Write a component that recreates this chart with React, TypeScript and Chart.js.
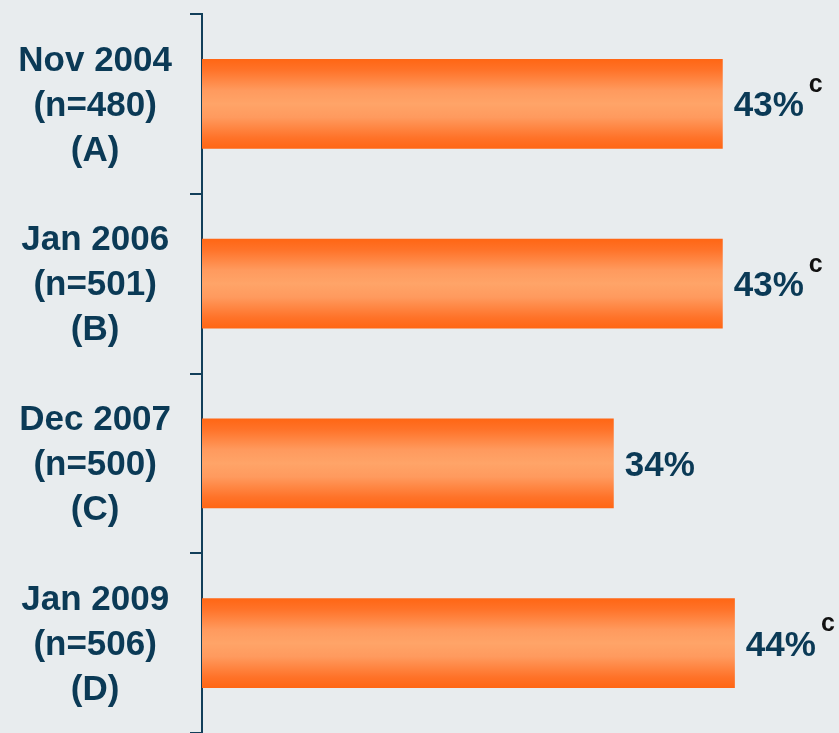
import React, { useEffect, useRef } from 'react';
import { Chart, registerables } from 'chart.js';

Chart.register(...registerables);

const categories: string[][] = [
  ['Nov 2004', '(n=480)', '(A)'],
  ['Jan 2006', '(n=501)', '(B)'],
  ['Dec 2007', '(n=500)', '(C)'],
  ['Jan 2009', '(n=506)', '(D)'],
];
const values: number[] = [43, 43, 34, 44];
const valueLabels: string[] = ['43%', '43%', '34%', '44%'];
const superscripts: string[] = ['c', 'c', '', 'c'];

const NAVY = '#0b3a56';
const AXIS = '#123f5a';
const BG = '#e8ecee';
const FONT = "'Liberation Sans', Arial, Helvetica, sans-serif";

export default function App() {
  const ref = useRef<HTMLCanvasElement | null>(null);

  useEffect(() => {
    const canvas = ref.current;
    if (!canvas) return;

    const bgPlugin = {
      id: 'bg',
      beforeDraw(chart: any) {
        const { ctx, width, height } = chart;
        ctx.save();
        ctx.fillStyle = BG;
        ctx.fillRect(0, 0, width, height);
        ctx.restore();
        // nudge the category labels down slightly to match the reference baseline
        const y = chart.scales.y;
        if (y && typeof y.getLabelItems === 'function') {
          const items = y.getLabelItems();
          items.forEach((it: any) => {
            if (!it.__shifted && it.options && it.options.translation) {
              it.options.translation = [it.options.translation[0], it.options.translation[1] + 2];
              it.__shifted = true;
            }
          });
        }
      },
    };

    const labelPlugin = {
      id: 'valueLabels',
      afterDatasetsDraw(chart: any) {
        const { ctx } = chart;
        const meta = chart.getDatasetMeta(0);
        ctx.save();
        meta.data.forEach((el: any, i: number) => {
          ctx.font = `bold 35px ${FONT}`;
          ctx.fillStyle = NAVY;
          ctx.textAlign = 'left';
          ctx.textBaseline = 'alphabetic';
          const x = el.x + 11;
          ctx.fillText(valueLabels[i], x, el.y + 12.5);
          const w = ctx.measureText(valueLabels[i]).width;
          if (superscripts[i]) {
            ctx.font = `bold 25px ${FONT}`;
            ctx.fillStyle = '#111111';
            ctx.fillText(superscripts[i], x + w + 5, el.y - 12);
          }
        });
        ctx.restore();
      },
    };

    const chart = new Chart(canvas, {
      type: 'bar',
      data: {
        labels: categories,
        datasets: [
          {
            data: values,
            barPercentage: 0.5,
            categoryPercentage: 1,
            borderWidth: 0,
            backgroundColor: (context: any) => {
              const c = context.chart;
              const y = c.scales?.y;
              const fallback = '#ff8a44';
              if (!y || typeof context.dataIndex !== 'number') return fallback;
              const center = y.getPixelForValue(context.dataIndex);
              const half = (y.height / categories.length) * 0.25;
              if (!isFinite(center) || !isFinite(half) || half <= 0) return fallback;
              const g = c.ctx.createLinearGradient(0, center - half, 0, center + half);
              g.addColorStop(0, '#ff6614');
              g.addColorStop(0.12, '#ff7228');
              g.addColorStop(0.35, '#ff9a5e');
              g.addColorStop(0.5, '#ffa468');
              g.addColorStop(0.65, '#ff9a5e');
              g.addColorStop(0.88, '#ff7228');
              g.addColorStop(1, '#ff6614');
              return g;
            },
          },
        ],
      },
      options: {
        indexAxis: 'y',
        responsive: false,
        animation: false,
        layout: { padding: { top: 14, bottom: 0, left: 0, right: 0 } },
        plugins: {
          legend: { display: false },
          tooltip: { enabled: false },
        },
        scales: {
          x: {
            display: false,
            min: 0,
            max: 52.6,
          },
          y: {
            afterFit(scale: any) {
              scale.width = 202;
              scale.paddingTop = 0;
              scale.paddingBottom = 0;
            },
            border: { display: true, color: AXIS, width: 2 },
            grid: {
              offset: true,
              drawOnChartArea: false,
              drawTicks: true,
              tickLength: 12,
              color: AXIS,
              lineWidth: 2,
            },
            ticks: {
              crossAlign: 'center',
              padding: 18,
              color: NAVY,
              font: { family: FONT, size: 35, weight: 'bold', lineHeight: 1.286 },
            },
          },
        },
      },
      plugins: [bgPlugin, labelPlugin],
    } as any);

    return () => chart.destroy();
  }, []);

  return (
    <div style={{ position: 'absolute', left: 0, top: 0, width: 839, height: 733, background: BG }}>
      <canvas ref={ref} width={839} height={733} style={{ display: 'block' }} />
    </div>
  );
}
